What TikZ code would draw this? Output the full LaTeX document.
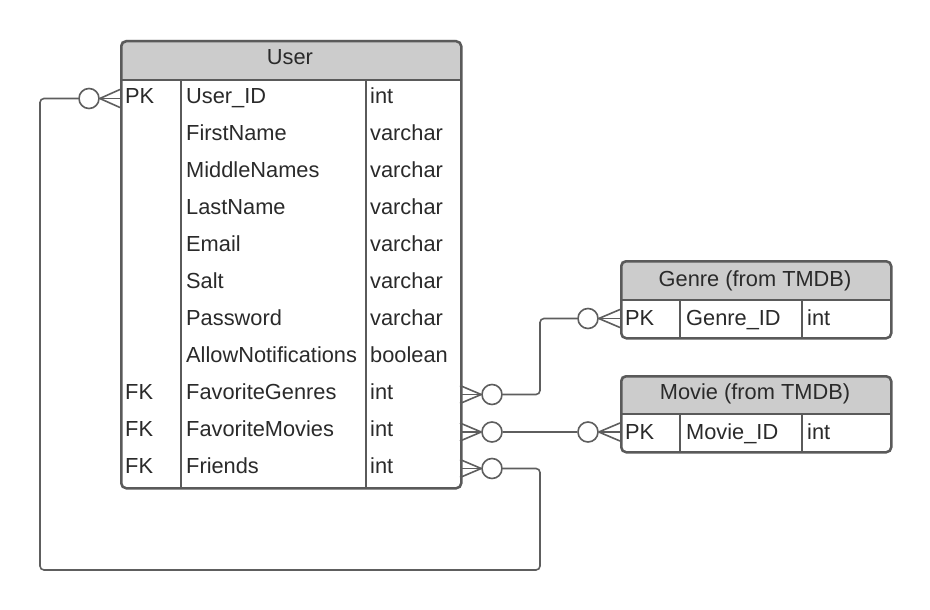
\documentclass[tikz,border=0pt]{standalone}
\usepackage{fontspec}
\setmainfont{Liberation Sans}
\definecolor{bordc}{HTML}{5A5A5A}
\definecolor{hdrc}{HTML}{CCCCCC}
\definecolor{txtc}{HTML}{2A2A2A}
\definecolor{linec}{HTML}{5E5E5E}
\begin{document}
\begin{tikzpicture}[x=1pt,y=-1pt,
  tbl/.style={draw=bordc, line width=2.5pt, rounded corners=5pt, inner sep=0pt, anchor=north west},
  sep/.style={draw=bordc, line width=2.5pt},
  txt/.style={anchor=base west, inner sep=0pt, text=txtc, font=\fontsize{21.8}{26}\selectfont},
  hdr/.style={anchor=base, inner sep=0pt, text=txtc, font=\fontsize{21.8}{26}\selectfont},
  conn/.style={draw=linec, line width=1.6pt},
  ring/.style={circle, draw=linec, line width=1.6pt, fill=white, minimum size=20pt, inner sep=0pt}]
\useasboundingbox (0,0) rectangle (930,610);
\fill[white] (0,0) rectangle (930,610);

% ---------- User table ----------
\fill[hdrc] (120,80) -- (120,45) arc[start angle=180,end angle=270,radius=5] -- (455,40) arc[start angle=270,end angle=360,radius=5] -- (460,80) -- cycle;
\node[tbl, minimum width=340pt, minimum height=447pt] (user) at (120,40) {};
\draw[sep] (120,80) -- (460,80);
\draw[sep] (181,80) -- (181,487);
\draw[sep] (366,80) -- (366,487);
\node[hdr] (userh) at (290,64.5) {User};
\node[txt] (u1k) at (125,103.5) {PK};
\node[txt] (u1n) at (186,103.5) {User\_ID};
\node[txt] (u1t) at (370,103.5) {int};
\node[txt] (u2n) at (186,140.5) {FirstName};
\node[txt] (u2t) at (370,140.5) {varchar};
\node[txt] (u3n) at (186,177.5) {MiddleNames};
\node[txt] (u3t) at (370,177.5) {varchar};
\node[txt] (u4n) at (186,214.5) {LastName};
\node[txt] (u4t) at (370,214.5) {varchar};
\node[txt] (u5n) at (186,251.5) {Email};
\node[txt] (u5t) at (370,251.5) {varchar};
\node[txt] (u6n) at (186,288.5) {Salt};
\node[txt] (u6t) at (370,288.5) {varchar};
\node[txt] (u7n) at (186,325.5) {Password};
\node[txt] (u7t) at (370,325.5) {varchar};
\node[txt] (u8n) at (186,362.5) {AllowNotifications};
\node[txt] (u8t) at (370,362.5) {boolean};
\node[txt] (u9k) at (125,399.5) {FK};
\node[txt] (u9n) at (186,399.5) {FavoriteGenres};
\node[txt] (u9t) at (370,399.5) {int};
\node[txt] (u10k) at (125,436.5) {FK};
\node[txt] (u10n) at (186,436.5) {FavoriteMovies};
\node[txt] (u10t) at (370,436.5) {int};
\node[txt] (u11k) at (125,473.5) {FK};
\node[txt] (u11n) at (186,473.5) {Friends};
\node[txt] (u11t) at (370,473.5) {int};

% ---------- Genre table ----------
\fill[hdrc] (620,300) -- (620,265) arc[start angle=180,end angle=270,radius=5] -- (885,260) arc[start angle=270,end angle=360,radius=5] -- (890,300) -- cycle;
\node[tbl, minimum width=270pt, minimum height=77pt] (genre) at (620,260) {};
\draw[sep] (620,300) -- (890,300);
\draw[sep] (680,300) -- (680,337);
\draw[sep] (802,300) -- (802,337);
\node[hdr] (genreh) at (755,286.5) {Genre (from TMDB)};
\node[txt] (g1k) at (625,325.5) {PK};
\node[txt] (g1n) at (686,325.5) {Genre\_ID};
\node[txt] (g1t) at (807,325.5) {int};

% ---------- Movie table ----------
\fill[hdrc] (620,414) -- (620,380) arc[start angle=180,end angle=270,radius=5] -- (885,375) arc[start angle=270,end angle=360,radius=5] -- (890,414) -- cycle;
\node[tbl, minimum width=270pt, minimum height=76pt] (movie) at (620,375) {};
\draw[sep] (620,414) -- (890,414);
\draw[sep] (680,414) -- (680,451);
\draw[sep] (802,414) -- (802,451);
\node[hdr] (movieh) at (755,399.5) {Movie (from TMDB)};
\node[txt] (m1k) at (625,439.5) {PK};
\node[txt] (m1n) at (686,439.5) {Movie\_ID};
\node[txt] (m1t) at (807,439.5) {int};

% ---------- connector anchors ----------
\coordinate (uPK) at (120,98.5);
\coordinate (uFG) at (460,394.5);
\coordinate (uFM) at (460,432);
\coordinate (uFR) at (460,468.5);
\coordinate (gPK) at (620,318.5);
\coordinate (mPK) at (620,432);

% rings
\node[ring] (rPK) at (89,98.5) {};
\node[ring] (rFG) at (492,394.5) {};
\node[ring] (rFM) at (492,432) {};
\node[ring] (rFR) at (492,468.5) {};
\node[ring] (rG) at (588,318.5) {};
\node[ring] (rM) at (588,432) {};

% crow's feet
\foreach \r/\e/\s in {rPK/uPK/1, rG/gPK/1, rM/mPK/1, rFG/uFG/-1, rFM/uFM/-1, rFR/uFR/-1}{
  \draw[conn] (\r.\ifnum\s=1 east\else west\fi) -- ([yshift=-9pt]\e);
  \draw[conn] (\r.\ifnum\s=1 east\else west\fi) -- (\e);
  \draw[conn] (\r.\ifnum\s=1 east\else west\fi) -- ([yshift=9pt]\e);
}

% connecting lines
\draw[conn, rounded corners=4pt] (rFG.east) -- (540,394.5) -- (540,318.5) -- (rG.west);
\draw[conn] (rFM.east) -- (rM.west);
\draw[conn, rounded corners=4pt] (rFR.east) -- (540,468.5) -- (540,570) -- (40,570) -- (40,98.5) -- (rPK.west);
\end{tikzpicture}
\end{document}
